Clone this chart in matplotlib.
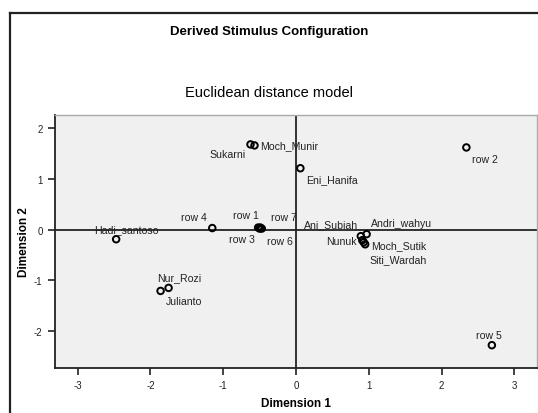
import matplotlib
matplotlib.use("Agg")
import matplotlib.pyplot as plt
from matplotlib.lines import Line2D

plt.rcParams['font.family'] = ['Liberation Sans', 'DejaVu Sans']
plt.rcParams['axes.unicode_minus'] = False

# --- Data ---
names = ["Hadi_santoso", "row 4", "row 1", "row 3", "row 6", "row 7",
         "Sukarni", "Moch_Munir", "Nur_Rozi", "Julianto", "Eni_Hanifa",
         "row 2", "row 5", "Ani_Subiah", "Andri_wahyu", "Nunuk",
         "Moch_Sutik", "Siti_Wardah"]
dim1 = [-2.47, -1.15, -0.52, -0.50, -0.47, -0.49,
        -0.625, -0.57, -1.75, -1.86, 0.06,
        2.34, 2.69, 0.89, 0.97, 0.91,
        0.95, 0.93]
dim2 = [-0.19, 0.03, 0.04, 0.02, 0.02, 0.04,
        1.68, 1.66, -1.15, -1.21, 1.21,
        1.62, -2.28, -0.13, -0.09, -0.21,
        -0.29, -0.25]
# label offsets in pixels (dx, dy) and horizontal alignment
label_pos = {
    "Hadi_santoso": (10, 10, 'center'),
    "row 4": (-18, 11, 'center'),
    "row 1": (-12, 13, 'center'),
    "row 3": (-18, -10, 'center'),
    "row 6": (18, -12, 'center'),
    "row 7": (24, 11, 'center'),
    "Sukarni": (-23, -10, 'center'),
    "Moch_Munir": (6, 0, 'left'),
    "Nur_Rozi": (11, 11, 'center'),
    "Julianto": (23, -10, 'center'),
    "Eni_Hanifa": (6, -11, 'left'),
    "row 2": (19, -12, 'center'),
    "row 5": (-3, 10, 'center'),
    "Ani_Subiah": (-30, 12, 'center'),
    "Andri_wahyu": (35, 11, 'center'),
    "Nunuk": (-21, -1, 'center'),
    "Moch_Sutik": (6, -1, 'left'),
    "Siti_Wardah": (34, -17, 'center'),
}

fig = plt.figure(figsize=(5.38, 4.14), dpi=100)
ax = fig.add_axes([55 / 538, 45 / 414, 482 / 538, 253 / 414])
ax.set_facecolor('#f0f0f0')

ax.axhline(0, color='#222222', lw=1.3, zorder=1)
ax.axvline(0, color='#222222', lw=1.3, zorder=1)

ax.scatter(dim1, dim2, s=22, facecolors='none', edgecolors='black',
           linewidths=1.4, zorder=3)

for n, x, y in zip(names, dim1, dim2):
    dx, dy, ha = label_pos[n]
    ax.annotate(n, (x, y), xytext=(dx, dy), textcoords='offset pixels',
                ha=ha, va='center', fontsize=7.6, color='#222222', zorder=4)

ax.set_xlim(-3.31, 3.31)
ax.set_ylim(-2.73, 2.26)
ax.set_xticks([-3, -2, -1, 0, 1, 2, 3])
ax.set_yticks([-2, -1, 0, 1, 2])
ax.tick_params(labelsize=7, length=5, width=1.2, color='#222222',
               labelcolor='#222222', pad=4)

for side in ('left', 'bottom'):
    ax.spines[side].set_color('#222222')
    ax.spines[side].set_linewidth(1.3)
for side in ('top', 'right'):
    ax.spines[side].set_color('#aaaaaa')
    ax.spines[side].set_linewidth(1.0)

ax.set_xlabel("Dimension 1", fontsize=8.5, fontweight='bold', labelpad=5)
ax.set_ylabel("Dimension 2", fontsize=8.5, fontweight='bold', labelpad=3)

fig.text(0.5, 1 - 32 / 414, "Derived Stimulus Configuration",
         ha='center', va='center', fontsize=9.5, fontweight='bold')
fig.text(0.5, 1 - 93 / 414, "Euclidean distance model",
         ha='center', va='center', fontsize=10.5)

# outer chart frame (top and left edges visible)
fig.add_artist(Line2D([10 / 538, 1], [1 - 14 / 414, 1 - 14 / 414],
                      transform=fig.transFigure, color='#222222', lw=1.6))
fig.add_artist(Line2D([10 / 538, 10 / 538], [0, 1 - 14 / 414],
                      transform=fig.transFigure, color='#222222', lw=1.6))

fig.savefig("out.png", dpi=100)
